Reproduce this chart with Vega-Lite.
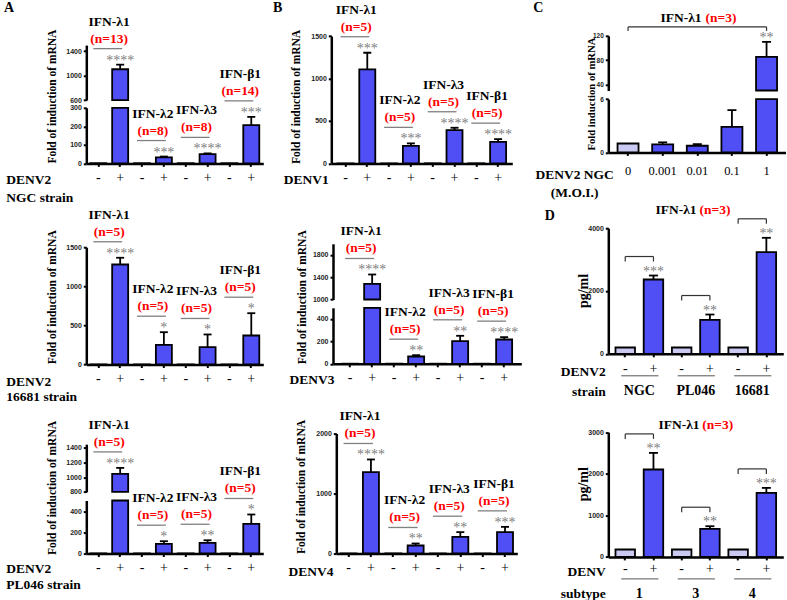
{
"$schema":"https://vega.github.io/schema/vega-lite/v6.json",
"padding":{"left":3.3,"top":0.8,"right":0,"bottom":0},
"columns":3,
"bounds":"flush",
"align":"each",
"spacing":{"row":64.4,"column":60},
"config":{
 "view":{"stroke":null},
 "axis":{"grid":false,"domain":true,"ticks":true,"domainColor":"#000","domainWidth":2.5,"tickColor":"#000","tickWidth":2,"tickSize":3,"labelFont":"Liberation Sans","labelFontWeight":"bold","labelFontSize":7,"labelColor":"#222","labelPadding":2,"titleFont":"Liberation Serif","titleFontWeight":"bold","titleColor":"#000","titleFontSize":11.5},
 "axisX":{"labelFont":"Liberation Serif","labelFontWeight":"normal","labelFontSize":14,"labelColor":"#000","labelAngle":0,"labelPadding":4,"titleFontSize":13.5,"titleAlign":"left","titleBaseline":"alphabetic","titleLineHeight":17},
 "text":{"font":"Liberation Serif"}
},
"datasets":{"bars":[
{"p":"A1","k":"λ1-","v":1,"hi":1,"c":"ctl"},
{"p":"A1","k":"λ1+","km":"λ1-","v":1105,"hi":1180,"c":"inf","s":"****","n":"(n=13)","g":"IFN-λ1"},
{"p":"A1","k":"λ2-","v":1,"hi":1,"c":"ctl"},
{"p":"A1","k":"λ2+","km":"λ2-","v":32,"hi":37,"c":"inf","s":"***","n":"(n=8)","g":"IFN-λ2"},
{"p":"A1","k":"λ3-","v":1,"hi":1,"c":"ctl"},
{"p":"A1","k":"λ3+","km":"λ3-","v":50,"hi":54,"c":"inf","s":"****","n":"(n=8)","g":"IFN-λ3"},
{"p":"A1","k":"β1-","v":1,"hi":1,"c":"ctl"},
{"p":"A1","k":"β1+","km":"β1-","v":207,"hi":251,"c":"inf","s":"***","n":"(n=14)","g":"IFN-β1"},
{"p":"A2","k":"λ1-","v":1,"hi":1,"c":"ctl"},
{"p":"A2","k":"λ1+","km":"λ1-","v":1279,"hi":1365,"c":"inf","s":"****","n":"(n=5)","g":"IFN-λ1"},
{"p":"A2","k":"λ2-","v":1,"hi":1,"c":"ctl"},
{"p":"A2","k":"λ2+","km":"λ2-","v":252,"hi":413,"c":"inf","s":"*","n":"(n=5)","g":"IFN-λ2"},
{"p":"A2","k":"λ3-","v":1,"hi":1,"c":"ctl"},
{"p":"A2","k":"λ3+","km":"λ3-","v":221,"hi":384,"c":"inf","s":"*","n":"(n=5)","g":"IFN-λ3"},
{"p":"A2","k":"β1-","v":1,"hi":1,"c":"ctl"},
{"p":"A2","k":"β1+","km":"β1-","v":371,"hi":656,"c":"inf","s":"*","n":"(n=5)","g":"IFN-β1"},
{"p":"A3","k":"λ1-","v":1,"hi":1,"c":"ctl"},
{"p":"A3","k":"λ1+","km":"λ1-","v":1045,"hi":1127,"c":"inf","s":"****","n":"(n=5)","g":"IFN-λ1"},
{"p":"A3","k":"λ2-","v":1,"hi":1,"c":"ctl"},
{"p":"A3","k":"λ2+","km":"λ2-","v":91,"hi":116,"c":"inf","s":"*","n":"(n=5)","g":"IFN-λ2"},
{"p":"A3","k":"λ3-","v":1,"hi":1,"c":"ctl"},
{"p":"A3","k":"λ3+","km":"λ3-","v":100,"hi":125,"c":"inf","s":"**","n":"(n=5)","g":"IFN-λ3"},
{"p":"A3","k":"β1-","v":1,"hi":1,"c":"ctl"},
{"p":"A3","k":"β1+","km":"β1-","v":279,"hi":368,"c":"inf","s":"*","n":"(n=5)","g":"IFN-β1"},
{"p":"B1","k":"λ1-","v":1,"hi":1,"c":"ctl"},
{"p":"B1","k":"λ1+","km":"λ1-","v":1108,"hi":1304,"c":"inf","s":"***","n":"(n=5)","g":"IFN-λ1"},
{"p":"B1","k":"λ2-","v":1,"hi":1,"c":"ctl"},
{"p":"B1","k":"λ2+","km":"λ2-","v":207,"hi":236,"c":"inf","s":"***","n":"(n=5)","g":"IFN-λ2"},
{"p":"B1","k":"λ3-","v":1,"hi":1,"c":"ctl"},
{"p":"B1","k":"λ3+","km":"λ3-","v":392,"hi":420,"c":"inf","s":"****","n":"(n=5)","g":"IFN-λ3"},
{"p":"B1","k":"β1-","v":1,"hi":1,"c":"ctl"},
{"p":"B1","k":"β1+","km":"β1-","v":254,"hi":286,"c":"inf","s":"****","n":"(n=5)","g":"IFN-β1"},
{"p":"B2","k":"λ1-","v":1,"hi":1,"c":"ctl"},
{"p":"B2","k":"λ1+","km":"λ1-","v":1282,"hi":1449,"c":"inf","s":"****","n":"(n=5)","g":"IFN-λ1"},
{"p":"B2","k":"λ2-","v":1,"hi":1,"c":"ctl"},
{"p":"B2","k":"λ2+","km":"λ2-","v":65,"hi":77,"c":"inf","s":"**","n":"(n=5)","g":"IFN-λ2"},
{"p":"B2","k":"λ3-","v":1,"hi":1,"c":"ctl"},
{"p":"B2","k":"λ3+","km":"λ3-","v":202,"hi":250,"c":"inf","s":"**","n":"(n=5)","g":"IFN-λ3"},
{"p":"B2","k":"β1-","v":1,"hi":1,"c":"ctl"},
{"p":"B2","k":"β1+","km":"β1-","v":217,"hi":238,"c":"inf","s":"****","n":"(n=5)","g":"IFN-β1"},
{"p":"B3","k":"λ1-","v":1,"hi":1,"c":"ctl"},
{"p":"B3","k":"λ1+","km":"λ1-","v":1355,"hi":1567,"c":"inf","s":"****","n":"(n=5)","g":"IFN-λ1"},
{"p":"B3","k":"λ2-","v":1,"hi":1,"c":"ctl"},
{"p":"B3","k":"λ2+","km":"λ2-","v":133,"hi":167,"c":"inf","s":"**","n":"(n=5)","g":"IFN-λ2"},
{"p":"B3","k":"λ3-","v":1,"hi":1,"c":"ctl"},
{"p":"B3","k":"λ3+","km":"λ3-","v":277,"hi":355,"c":"inf","s":"**","n":"(n=5)","g":"IFN-λ3"},
{"p":"B3","k":"β1-","v":1,"hi":1,"c":"ctl"},
{"p":"B3","k":"β1+","km":"β1-","v":355,"hi":444,"c":"inf","s":"***","n":"(n=5)","g":"IFN-β1"},
{"p":"C","k":"0","v":1,"hi":1,"c":"ctl"},
{"p":"C","k":"0.001","v":0.9,"hi":1.13,"c":"inf"},
{"p":"C","k":"0.01","v":0.75,"hi":0.93,"c":"inf"},
{"p":"C","k":"0.1","v":2.88,"hi":4.76,"c":"inf"},
{"p":"C","k":"1","km":"0","v":85.2,"hi":110,"c":"inf","s":"**"},
{"p":"D1","k":"NGC-","v":200,"hi":200,"c":"ctl"},
{"p":"D1","k":"NGC+","km":"NGC-","v":2366,"hi":2493,"c":"inf","s":"***","grp":"NGC"},
{"p":"D1","k":"PL046-","v":200,"hi":200,"c":"ctl"},
{"p":"D1","k":"PL046+","km":"PL046-","v":1083,"hi":1251,"c":"inf","s":"**","grp":"PL046"},
{"p":"D1","k":"16681-","v":200,"hi":200,"c":"ctl"},
{"p":"D1","k":"16681+","km":"16681-","v":3236,"hi":3694,"c":"inf","s":"**","grp":"16681"},
{"p":"D2","k":"1-","v":178,"hi":178,"c":"ctl"},
{"p":"D2","k":"1+","km":"1-","v":2102,"hi":2502,"c":"inf","s":"**","grp":"1"},
{"p":"D2","k":"3-","v":178,"hi":178,"c":"ctl"},
{"p":"D2","k":"3+","km":"3-","v":674,"hi":738,"c":"inf","s":"**","grp":"3"},
{"p":"D2","k":"4-","v":178,"hi":178,"c":"ctl"},
{"p":"D2","k":"4+","km":"4-","v":1540,"hi":1660,"c":"inf","s":"***","grp":"4"}
]},
"concat":[
{"width":184.5,"height":127.6,"data":{"name":"bars"},"transform":[{"filter":"datum.p=='A1'"}],
"encoding":{"x":{"field":"k","type":"nominal","scale":{"domain":["λ1-","λ1+","λ2-","λ2+","λ3-","λ3+","β1-","β1+"],"range":[0,177],"paddingInner":0,"paddingOuter":0.05},"axis":{"domainColor":"#000","domainWidth":2.5,"tickColor":"#000","tickWidth":2,"labelExpr":"substring(datum.label,length(datum.label)-1)","title":["DENV2","NGC strain"],"titleX":-80.5,"titleY":20.3,"titleLineHeight":17.7}}},
"resolve":{"scale":{"y":"independent"}},
"layer":[
{"layer":[
{"mark":{"type":"bar","width":16,"stroke":"#000","strokeWidth":1.8},"encoding":{"y":{"field":"v","type":"quantitative","scale":{"domain":[0,300],"range":[127.6,72],"nice":false,"zero":false,"clamp":true},"axis":{"orient":"left","format":"d","domainColor":"#000","domainWidth":2.5,"tickColor":"#000","tickWidth":2,"values":[0,100,200,300],"title":"Fold of induction of mRNA","titleX":-33.8,"titleY":127.3,"titleAlign":"left","titleBaseline":"middle","titleAngle":270}},"y2":{"datum":0},"color":{"field":"c","type":"nominal","scale":{"domain":["ctl","inf"],"range":["#c9c9f1","#4f4ff5"]},"legend":null}}},
{"transform":[{"filter":"datum.hi>datum.v && datum.hi<=300"}],"mark":{"type":"rule","color":"#000","strokeWidth":1.8},"encoding":{"y":{"field":"v","type":"quantitative"},"y2":{"field":"hi"}}},
{"transform":[{"filter":"datum.hi>datum.v && datum.hi<=300"}],"mark":{"type":"tick","orient":"horizontal","size":8,"thickness":1.8,"color":"#000","opacity":1},"encoding":{"y":{"field":"hi","type":"quantitative"}}},
{"transform":[{"filter":"datum.g && datum.hi<=300"}],"mark":{"type":"text","fontSize":14,"color":"#808080","baseline":"alphabetic"},"encoding":{"y":{"field":"hi","type":"quantitative"},"text":{"field":"s"}}},
{"transform":[{"filter":"datum.g && datum.hi<=300"}],"mark":{"type":"rule","color":"#808080","strokeWidth":1.3,"yOffset":-16,"xOffset":2,"x2Offset":-5},"encoding":{"y":{"field":"hi","type":"quantitative"},"x2":{"field":"km"}}},
{"transform":[{"filter":"datum.g && datum.hi<=300"}],"mark":{"type":"text","fontSize":13.5,"fontWeight":"bold","color":"#ff0000","baseline":"middle","dx":-11,"dy":-26},"encoding":{"y":{"field":"hi","type":"quantitative"},"text":{"field":"n"}}},
{"transform":[{"filter":"datum.g && datum.hi<=300"}],"mark":{"type":"text","fontSize":13.5,"fontWeight":"bold","color":"#000","baseline":"middle","dx":-11,"dy":-43},"encoding":{"y":{"field":"hi","type":"quantitative"},"text":{"field":"g"}}}
]},
{"layer":[
{"transform":[{"filter":"datum.v>300"}],"mark":{"type":"bar","width":16,"stroke":"#000","strokeWidth":1.8},"encoding":{"y":{"field":"v","type":"quantitative","scale":{"domain":[600,1500],"range":[64.3,9.3],"nice":false,"zero":false},"axis":{"orient":"left","format":"d","domainColor":"#000","domainWidth":2.5,"tickColor":"#000","tickWidth":2,"values":[600,800,1000,1200,1400],"title":null}},"y2":{"datum":600},"color":{"field":"c","type":"nominal","scale":{"domain":["ctl","inf"],"range":["#c9c9f1","#4f4ff5"]},"legend":null}}},
{"transform":[{"filter":"datum.hi>datum.v && datum.hi>300"}],"mark":{"type":"rule","color":"#000","strokeWidth":1.8},"encoding":{"y":{"field":"v","type":"quantitative"},"y2":{"field":"hi"}}},
{"transform":[{"filter":"datum.hi>datum.v && datum.hi>300"}],"mark":{"type":"tick","orient":"horizontal","size":8,"thickness":1.8,"color":"#000","opacity":1},"encoding":{"y":{"field":"hi","type":"quantitative"}}},
{"transform":[{"filter":"datum.g && datum.hi>300"}],"mark":{"type":"text","fontSize":14,"color":"#808080","baseline":"alphabetic"},"encoding":{"y":{"field":"hi","type":"quantitative"},"text":{"field":"s"}}},
{"transform":[{"filter":"datum.g && datum.hi>300"}],"mark":{"type":"rule","color":"#808080","strokeWidth":1.3,"yOffset":-16,"xOffset":2,"x2Offset":-5},"encoding":{"y":{"field":"hi","type":"quantitative"},"x2":{"field":"km"}}},
{"transform":[{"filter":"datum.g && datum.hi>300"}],"mark":{"type":"text","fontSize":13.5,"fontWeight":"bold","color":"#ff0000","baseline":"middle","dx":-11,"dy":-26},"encoding":{"y":{"field":"hi","type":"quantitative"},"text":{"field":"n"}}},
{"transform":[{"filter":"datum.g && datum.hi>300"}],"mark":{"type":"text","fontSize":13.5,"fontWeight":"bold","color":"#000","baseline":"middle","dx":-11,"dy":-43},"encoding":{"y":{"field":"hi","type":"quantitative"},"text":{"field":"g"}}},
{"transform":[{"filter":"datum.k=='λ1+'"}],"mark":{"type":"text","text":"A","fontSize":14,"fontWeight":"bold","color":"#000","align":"left","baseline":"middle","dx":-116.1,"dy":-56.8},"encoding":{"y":{"field":"hi","type":"quantitative"}}}
]}
]},
{"width":216.7,"height":127.6,"data":{"name":"bars"},"transform":[{"filter":"datum.p=='B1'"}],
"encoding":{"x":{"field":"k","type":"nominal","scale":{"domain":["λ1-","λ1+","λ2-","λ2+","λ3-","λ3+","β1-","β1+"],"range":[0,181],"paddingInner":0,"paddingOuter":0.15},"axis":{"domainColor":"#000","domainWidth":2.5,"tickColor":"#000","tickWidth":2,"labelExpr":"substring(datum.label,length(datum.label)-1)","title":"DENV1","titleAlign":"right","titleX":-3,"titleY":19.7}}},
"layer":[
{"mark":{"type":"bar","width":16,"stroke":"#000","strokeWidth":1.8},"encoding":{"y":{"field":"v","type":"quantitative","scale":{"domain":[0,1500],"range":[127.6,0.3],"nice":false,"zero":false},"axis":{"orient":"left","format":"d","domainColor":"#000","domainWidth":2.5,"tickColor":"#000","tickWidth":2,"values":[0,500,1000,1500],"title":"Fold of induction of mRNA","titleX":-35,"titleY":127.6,"titleAlign":"left","titleBaseline":"middle","titleAngle":270}},"y2":{"datum":0},"color":{"field":"c","type":"nominal","scale":{"domain":["ctl","inf"],"range":["#c9c9f1","#4f4ff5"]},"legend":null}}},
{"transform":[{"filter":"datum.hi>datum.v"}],"mark":{"type":"rule","color":"#000","strokeWidth":1.8},"encoding":{"y":{"field":"v","type":"quantitative"},"y2":{"field":"hi"}}},
{"transform":[{"filter":"datum.hi>datum.v"}],"mark":{"type":"tick","orient":"horizontal","size":8,"thickness":1.8,"color":"#000","opacity":1},"encoding":{"y":{"field":"hi","type":"quantitative"}}},
{"transform":[{"filter":"datum.g"}],"mark":{"type":"text","fontSize":14,"color":"#808080","baseline":"alphabetic"},"encoding":{"y":{"field":"hi","type":"quantitative"},"text":{"field":"s"}}},
{"transform":[{"filter":"datum.g"}],"mark":{"type":"rule","color":"#808080","strokeWidth":1.3,"yOffset":-16,"xOffset":2,"x2Offset":-5},"encoding":{"y":{"field":"hi","type":"quantitative"},"x2":{"field":"km"}}},
{"transform":[{"filter":"datum.g"}],"mark":{"type":"text","fontSize":13.5,"fontWeight":"bold","color":"#ff0000","baseline":"middle","dx":-11,"dy":-26},"encoding":{"y":{"field":"hi","type":"quantitative"},"text":{"field":"n"}}},
{"transform":[{"filter":"datum.g"}],"mark":{"type":"text","fontSize":13.5,"fontWeight":"bold","color":"#000","baseline":"middle","dx":-11,"dy":-43},"encoding":{"y":{"field":"hi","type":"quantitative"},"text":{"field":"g"}}},
{"transform":[{"filter":"datum.k=='λ1+'"}],"mark":{"type":"text","text":"B","fontSize":14,"fontWeight":"bold","color":"#000","align":"left","baseline":"middle","dx":-94.3,"dy":-44.8},"encoding":{"y":{"field":"hi","type":"quantitative"}}}
]},
{"width":178,"height":116.6,"data":{"name":"bars"},"transform":[{"filter":"datum.p=='C'"}],
"encoding":{"x":{"field":"k","type":"nominal","scale":{"domain":["0","0.001","0.01","0.1","1"],"range":[0,178],"paddingInner":0,"paddingOuter":0.07},"axis":{"domainColor":"#000","domainWidth":2.5,"tickColor":"#000","tickWidth":2,"labelFontSize":12.5,"labelPadding":9.5,"title":["DENV2 NGC","(M.O.I.)"],"titleAlign":"center","titleX":-34.2,"titleY":25.7,"titleLineHeight":18.4}}},
"resolve":{"scale":{"y":"independent"}},
"layer":[
{"layer":[
{"mark":{"type":"bar","width":21,"stroke":"#000","strokeWidth":1.8},"encoding":{"y":{"field":"v","type":"quantitative","scale":{"domain":[0,6],"range":[116.6,63.3],"nice":false,"zero":false,"clamp":true},"axis":{"orient":"left","format":"d","domainColor":"#000","domainWidth":2.5,"tickColor":"#000","tickWidth":2,"values":[0,2,4,6],"labelFontSize":6.5,"title":"Fold induction of mRNA","titleFontSize":10.7,"titleX":-17,"titleY":114.3,"titleAlign":"left","titleBaseline":"middle","titleAngle":270}},"y2":{"datum":0},"color":{"field":"c","type":"nominal","scale":{"domain":["ctl","inf"],"range":["#c9c9f1","#4f4ff5"]},"legend":null}}},
{"transform":[{"filter":"datum.hi>datum.v && datum.hi<=6"}],"mark":{"type":"rule","color":"#000","strokeWidth":1.8},"encoding":{"y":{"field":"v","type":"quantitative"},"y2":{"field":"hi"}}},
{"transform":[{"filter":"datum.hi>datum.v && datum.hi<=6"}],"mark":{"type":"tick","orient":"horizontal","size":9,"thickness":1.8,"color":"#000","opacity":1},"encoding":{"y":{"field":"hi","type":"quantitative"}}}
]},
{"layer":[
{"transform":[{"filter":"datum.v>6"}],"mark":{"type":"bar","width":21,"stroke":"#000","strokeWidth":1.8},"encoding":{"y":{"field":"v","type":"quantitative","scale":{"domain":[30,120],"range":[54.7,0],"nice":false,"zero":false},"axis":{"orient":"left","format":"d","domainColor":"#000","domainWidth":2.5,"tickColor":"#000","tickWidth":2,"values":[40,60,80,100,120],"labelFontSize":6.5,"title":null}},"y2":{"datum":30},"color":{"field":"c","type":"nominal","scale":{"domain":["ctl","inf"],"range":["#c9c9f1","#4f4ff5"]},"legend":null}}},
{"transform":[{"filter":"datum.hi>datum.v && datum.hi>6"}],"mark":{"type":"rule","color":"#000","strokeWidth":1.8},"encoding":{"y":{"field":"v","type":"quantitative"},"y2":{"field":"hi"}}},
{"transform":[{"filter":"datum.hi>datum.v && datum.hi>6"}],"mark":{"type":"tick","orient":"horizontal","size":9,"thickness":1.8,"color":"#000","opacity":1},"encoding":{"y":{"field":"hi","type":"quantitative"}}},
{"transform":[{"filter":"datum.s"}],"mark":{"type":"text","fontSize":14,"color":"#808080","baseline":"alphabetic"},"encoding":{"y":{"field":"hi","type":"quantitative"},"text":{"field":"s"}}},
{"transform":[{"filter":"datum.s"}],"mark":{"type":"rule","color":"#333","strokeWidth":1.2,"yOffset":-15},"encoding":{"y":{"field":"hi","type":"quantitative"},"x2":{"field":"km"}}},
{"transform":[{"filter":"datum.s"}],"mark":{"type":"tick","orient":"vertical","size":4,"thickness":1.2,"color":"#333","opacity":1,"yOffset":-13},"encoding":{"y":{"field":"hi","type":"quantitative"}}},
{"transform":[{"filter":"datum.s"}],"mark":{"type":"tick","orient":"vertical","size":4,"thickness":1.2,"color":"#333","opacity":1,"yOffset":-13},"encoding":{"x":{"field":"km","type":"nominal"},"y":{"field":"hi","type":"quantitative"}}},
{"transform":[{"filter":"datum.s"}],"mark":{"type":"text","text":"IFN-λ1","fontSize":13.5,"fontWeight":"bold","color":"#000","align":"right","baseline":"middle","dx":-65,"dy":-23.5},"encoding":{"y":{"field":"hi","type":"quantitative"}}},
{"transform":[{"filter":"datum.s"}],"mark":{"type":"text","text":"(n=3)","fontSize":13.5,"fontWeight":"bold","color":"#ff0000","align":"left","baseline":"middle","dx":-61,"dy":-23.5},"encoding":{"y":{"field":"hi","type":"quantitative"}}},
{"transform":[{"filter":"datum.s"}],"mark":{"type":"text","text":"C","fontSize":14,"fontWeight":"bold","color":"#000","align":"left","baseline":"middle","dx":-233.3,"dy":-33.5},"encoding":{"y":{"field":"hi","type":"quantitative"}}}
]}
]},
{"width":184.5,"height":136.3,"data":{"name":"bars"},"transform":[{"filter":"datum.p=='A2'"}],
"encoding":{"x":{"field":"k","type":"nominal","scale":{"domain":["λ1-","λ1+","λ2-","λ2+","λ3-","λ3+","β1-","β1+"],"range":[0,177],"paddingInner":0,"paddingOuter":0.05},"axis":{"domainColor":"#000","domainWidth":2.5,"tickColor":"#000","tickWidth":2,"labelExpr":"substring(datum.label,length(datum.label)-1)","title":["DENV2","16681 strain"],"titleX":-80.5,"titleY":20.6,"titleLineHeight":15.5}}},
"layer":[
{"mark":{"type":"bar","width":16,"stroke":"#000","strokeWidth":1.8},"encoding":{"y":{"field":"v","type":"quantitative","scale":{"domain":[0,1500],"range":[136.3,19],"nice":false,"zero":false},"axis":{"orient":"left","format":"d","domainColor":"#000","domainWidth":2.5,"tickColor":"#000","tickWidth":2,"values":[0,500,1000,1500],"title":"Fold of induction of mRNA","titleX":-33.8,"titleY":135.6,"titleAlign":"left","titleBaseline":"middle","titleAngle":270}},"y2":{"datum":0},"color":{"field":"c","type":"nominal","scale":{"domain":["ctl","inf"],"range":["#c9c9f1","#4f4ff5"]},"legend":null}}},
{"transform":[{"filter":"datum.hi>datum.v"}],"mark":{"type":"rule","color":"#000","strokeWidth":1.8},"encoding":{"y":{"field":"v","type":"quantitative"},"y2":{"field":"hi"}}},
{"transform":[{"filter":"datum.hi>datum.v"}],"mark":{"type":"tick","orient":"horizontal","size":8,"thickness":1.8,"color":"#000","opacity":1},"encoding":{"y":{"field":"hi","type":"quantitative"}}},
{"transform":[{"filter":"datum.g"}],"mark":{"type":"text","fontSize":14,"color":"#808080","baseline":"alphabetic"},"encoding":{"y":{"field":"hi","type":"quantitative"},"text":{"field":"s"}}},
{"transform":[{"filter":"datum.g"}],"mark":{"type":"rule","color":"#808080","strokeWidth":1.3,"yOffset":-16,"xOffset":2,"x2Offset":-5},"encoding":{"y":{"field":"hi","type":"quantitative"},"x2":{"field":"km"}}},
{"transform":[{"filter":"datum.g"}],"mark":{"type":"text","fontSize":13.5,"fontWeight":"bold","color":"#ff0000","baseline":"middle","dx":-11,"dy":-26},"encoding":{"y":{"field":"hi","type":"quantitative"},"text":{"field":"n"}}},
{"transform":[{"filter":"datum.g"}],"mark":{"type":"text","fontSize":13.5,"fontWeight":"bold","color":"#000","baseline":"middle","dx":-11,"dy":-43},"encoding":{"y":{"field":"hi","type":"quantitative"},"text":{"field":"g"}}}
]},
{"width":216.7,"height":135.6,"data":{"name":"bars"},"transform":[{"filter":"datum.p=='B2'"}],
"encoding":{"x":{"field":"k","type":"nominal","scale":{"domain":["λ1-","λ1+","λ2-","λ2+","λ3-","λ3+","β1-","β1+"],"range":[1.7,190],"paddingInner":0,"paddingOuter":0.28},"axis":{"domainColor":"#000","domainWidth":2.5,"tickColor":"#000","tickWidth":2,"labelExpr":"substring(datum.label,length(datum.label)-1)","title":"DENV3","titleAlign":"right","titleX":2.7,"titleY":19.7}}},
"resolve":{"scale":{"y":"independent"}},
"layer":[
{"layer":[
{"mark":{"type":"bar","width":16,"stroke":"#000","strokeWidth":1.8},"encoding":{"y":{"field":"v","type":"quantitative","scale":{"domain":[0,500],"range":[135.6,79.6],"nice":false,"zero":false,"clamp":true},"axis":{"orient":"left","format":"d","domainColor":"#000","domainWidth":2.5,"tickColor":"#000","tickWidth":2,"offset":-1.7,"values":[0,100,200,300,400,500],"title":"Fold of induction of mRNA","titleX":-30,"titleY":135.6,"titleAlign":"left","titleBaseline":"middle","titleAngle":270}},"y2":{"datum":0},"color":{"field":"c","type":"nominal","scale":{"domain":["ctl","inf"],"range":["#c9c9f1","#4f4ff5"]},"legend":null}}},
{"transform":[{"filter":"datum.hi>datum.v && datum.hi<=500"}],"mark":{"type":"rule","color":"#000","strokeWidth":1.8},"encoding":{"y":{"field":"v","type":"quantitative"},"y2":{"field":"hi"}}},
{"transform":[{"filter":"datum.hi>datum.v && datum.hi<=500"}],"mark":{"type":"tick","orient":"horizontal","size":8,"thickness":1.8,"color":"#000","opacity":1},"encoding":{"y":{"field":"hi","type":"quantitative"}}},
{"transform":[{"filter":"datum.g && datum.hi<=500"}],"mark":{"type":"text","fontSize":14,"color":"#808080","baseline":"alphabetic"},"encoding":{"y":{"field":"hi","type":"quantitative"},"text":{"field":"s"}}},
{"transform":[{"filter":"datum.g && datum.hi<=500"}],"mark":{"type":"rule","color":"#808080","strokeWidth":1.3,"yOffset":-16,"xOffset":2,"x2Offset":-5},"encoding":{"y":{"field":"hi","type":"quantitative"},"x2":{"field":"km"}}},
{"transform":[{"filter":"datum.g && datum.hi<=500"}],"mark":{"type":"text","fontSize":13.5,"fontWeight":"bold","color":"#ff0000","baseline":"middle","dx":-11,"dy":-26},"encoding":{"y":{"field":"hi","type":"quantitative"},"text":{"field":"n"}}},
{"transform":[{"filter":"datum.g && datum.hi<=500"}],"mark":{"type":"text","fontSize":13.5,"fontWeight":"bold","color":"#000","baseline":"middle","dx":-11,"dy":-43},"encoding":{"y":{"field":"hi","type":"quantitative"},"text":{"field":"g"}}}
]},
{"layer":[
{"transform":[{"filter":"datum.v>500"}],"mark":{"type":"bar","width":16,"stroke":"#000","strokeWidth":1.8},"encoding":{"y":{"field":"v","type":"quantitative","scale":{"domain":[1000,2000],"range":[71.3,15.6],"nice":false,"zero":false},"axis":{"orient":"left","format":"d","domainColor":"#000","domainWidth":2.5,"tickColor":"#000","tickWidth":2,"offset":-1.7,"values":[1000,1200,1400,1600,1800,2000],"title":null}},"y2":{"datum":1000},"color":{"field":"c","type":"nominal","scale":{"domain":["ctl","inf"],"range":["#c9c9f1","#4f4ff5"]},"legend":null}}},
{"transform":[{"filter":"datum.hi>datum.v && datum.hi>500"}],"mark":{"type":"rule","color":"#000","strokeWidth":1.8},"encoding":{"y":{"field":"v","type":"quantitative"},"y2":{"field":"hi"}}},
{"transform":[{"filter":"datum.hi>datum.v && datum.hi>500"}],"mark":{"type":"tick","orient":"horizontal","size":8,"thickness":1.8,"color":"#000","opacity":1},"encoding":{"y":{"field":"hi","type":"quantitative"}}},
{"transform":[{"filter":"datum.g && datum.hi>500"}],"mark":{"type":"text","fontSize":14,"color":"#808080","baseline":"alphabetic"},"encoding":{"y":{"field":"hi","type":"quantitative"},"text":{"field":"s"}}},
{"transform":[{"filter":"datum.g && datum.hi>500"}],"mark":{"type":"rule","color":"#808080","strokeWidth":1.3,"yOffset":-16,"xOffset":2,"x2Offset":-5},"encoding":{"y":{"field":"hi","type":"quantitative"},"x2":{"field":"km"}}},
{"transform":[{"filter":"datum.g && datum.hi>500"}],"mark":{"type":"text","fontSize":13.5,"fontWeight":"bold","color":"#ff0000","baseline":"middle","dx":-11,"dy":-26},"encoding":{"y":{"field":"hi","type":"quantitative"},"text":{"field":"n"}}},
{"transform":[{"filter":"datum.g && datum.hi>500"}],"mark":{"type":"text","fontSize":13.5,"fontWeight":"bold","color":"#000","baseline":"middle","dx":-11,"dy":-43},"encoding":{"y":{"field":"hi","type":"quantitative"},"text":{"field":"g"}}}
]}
]},
{"width":175,"height":125.6,"data":{"name":"bars"},"transform":[{"filter":"datum.p=='D1'"}],
"encoding":{"x":{"field":"k","type":"nominal","scale":{"domain":["NGC-","NGC+","PL046-","PL046+","16681-","16681+"],"range":[0,175],"paddingInner":0,"paddingOuter":0.1},"axis":{"domainColor":"#000","domainWidth":2.5,"tickColor":"#000","tickWidth":2,"labelExpr":"substring(datum.label,length(datum.label)-1)","labelPadding":4.7,"title":["DENV2","strain"],"titleAlign":"right","titleX":-3,"titleY":21.3,"titleLineHeight":20.7}}},
"layer":[
{"mark":{"type":"bar","width":19.5,"stroke":"#000","strokeWidth":1.8},"encoding":{"y":{"field":"v","type":"quantitative","scale":{"domain":[0,4000],"range":[125.6,0],"nice":false,"zero":false},"axis":{"orient":"left","format":"d","domainColor":"#000","domainWidth":2.5,"tickColor":"#000","tickWidth":2,"values":[0,1000,2000,3000,4000],"title":"pg/ml","titleFontSize":14,"titleX":-25,"titleY":62.3,"titleAlign":"center","titleBaseline":"middle","titleAngle":270}},"y2":{"datum":0},"color":{"field":"c","type":"nominal","scale":{"domain":["ctl","inf"],"range":["#c9c9f1","#4f4ff5"]},"legend":null}}},
{"transform":[{"filter":"datum.hi>datum.v"}],"mark":{"type":"rule","color":"#000","strokeWidth":1.8},"encoding":{"y":{"field":"v","type":"quantitative"},"y2":{"field":"hi"}}},
{"transform":[{"filter":"datum.hi>datum.v"}],"mark":{"type":"tick","orient":"horizontal","size":9,"thickness":1.8,"color":"#000","opacity":1},"encoding":{"y":{"field":"hi","type":"quantitative"}}},
{"transform":[{"filter":"datum.s"}],"mark":{"type":"text","fontSize":14,"color":"#808080","baseline":"alphabetic"},"encoding":{"y":{"field":"hi","type":"quantitative"},"text":{"field":"s"}}},
{"transform":[{"filter":"datum.s"}],"mark":{"type":"rule","color":"#333","strokeWidth":1.2,"yOffset":-19},"encoding":{"y":{"field":"hi","type":"quantitative"},"x2":{"field":"km"}}},
{"transform":[{"filter":"datum.s"}],"mark":{"type":"tick","orient":"vertical","size":5,"thickness":1.2,"color":"#333","opacity":1,"yOffset":-16.5},"encoding":{"y":{"field":"hi","type":"quantitative"}}},
{"transform":[{"filter":"datum.s"}],"mark":{"type":"tick","orient":"vertical","size":5,"thickness":1.2,"color":"#333","opacity":1,"yOffset":-16.5},"encoding":{"x":{"field":"km","type":"nominal"},"y":{"field":"hi","type":"quantitative"}}},
{"transform":[{"filter":"datum.grp"}],"mark":{"type":"rule","color":"#555","strokeWidth":1,"yOffset":22,"xOffset":5,"x2Offset":-4},"encoding":{"y":{"datum":0,"type":"quantitative"},"x2":{"field":"km"}}},
{"transform":[{"filter":"datum.grp"}],"mark":{"type":"text","fontSize":14,"fontWeight":"bold","color":"#000","baseline":"middle","dx":-14.1,"dy":37},"encoding":{"y":{"datum":0,"type":"quantitative"},"text":{"field":"grp"}}},
{"transform":[{"filter":"datum.k=='PL046+'"}],"mark":{"type":"text","text":"IFN-λ1","fontSize":13.5,"fontWeight":"bold","color":"#000","align":"right","baseline":"middle","dx":-13.3,"dy":-104.7},"encoding":{"y":{"field":"hi","type":"quantitative"}}},
{"transform":[{"filter":"datum.k=='PL046+'"}],"mark":{"type":"text","text":"(n=3)","fontSize":13.5,"fontWeight":"bold","color":"#ff0000","align":"left","baseline":"middle","dx":-10.3,"dy":-104.7},"encoding":{"y":{"field":"hi","type":"quantitative"}}},
{"transform":[{"filter":"datum.k=='NGC+'"}],"mark":{"type":"text","text":"D","fontSize":14,"fontWeight":"bold","color":"#000","align":"left","baseline":"middle","dx":-108.8,"dy":-60},"encoding":{"y":{"field":"hi","type":"quantitative"}}}
]},
{"width":184.5,"height":123.9,"data":{"name":"bars"},"transform":[{"filter":"datum.p=='A3'"}],
"encoding":{"x":{"field":"k","type":"nominal","scale":{"domain":["λ1-","λ1+","λ2-","λ2+","λ3-","λ3+","β1-","β1+"],"range":[0,177],"paddingInner":0,"paddingOuter":0.05},"axis":{"domainColor":"#000","domainWidth":2.5,"tickColor":"#000","tickWidth":2,"labelExpr":"substring(datum.label,length(datum.label)-1)","title":["DENV2","PL046 strain"],"titleX":-80.5,"titleY":19,"titleLineHeight":16}}},
"resolve":{"scale":{"y":"independent"}},
"layer":[
{"layer":[
{"mark":{"type":"bar","width":16,"stroke":"#000","strokeWidth":1.8},"encoding":{"y":{"field":"v","type":"quantitative","scale":{"domain":[0,500],"range":[123.9,70.9],"nice":false,"zero":false,"clamp":true},"axis":{"orient":"left","format":"d","domainColor":"#000","domainWidth":2.5,"tickColor":"#000","tickWidth":2,"values":[0,100,200,300,400,500],"title":"Fold of induction of mRNA","titleX":-33.8,"titleY":124.9,"titleAlign":"left","titleBaseline":"middle","titleAngle":270}},"y2":{"datum":0},"color":{"field":"c","type":"nominal","scale":{"domain":["ctl","inf"],"range":["#c9c9f1","#4f4ff5"]},"legend":null}}},
{"transform":[{"filter":"datum.hi>datum.v && datum.hi<=500"}],"mark":{"type":"rule","color":"#000","strokeWidth":1.8},"encoding":{"y":{"field":"v","type":"quantitative"},"y2":{"field":"hi"}}},
{"transform":[{"filter":"datum.hi>datum.v && datum.hi<=500"}],"mark":{"type":"tick","orient":"horizontal","size":8,"thickness":1.8,"color":"#000","opacity":1},"encoding":{"y":{"field":"hi","type":"quantitative"}}},
{"transform":[{"filter":"datum.g && datum.hi<=500"}],"mark":{"type":"text","fontSize":14,"color":"#808080","baseline":"alphabetic"},"encoding":{"y":{"field":"hi","type":"quantitative"},"text":{"field":"s"}}},
{"transform":[{"filter":"datum.g && datum.hi<=500"}],"mark":{"type":"rule","color":"#808080","strokeWidth":1.3,"yOffset":-16,"xOffset":2,"x2Offset":-5},"encoding":{"y":{"field":"hi","type":"quantitative"},"x2":{"field":"km"}}},
{"transform":[{"filter":"datum.g && datum.hi<=500"}],"mark":{"type":"text","fontSize":13.5,"fontWeight":"bold","color":"#ff0000","baseline":"middle","dx":-11,"dy":-26},"encoding":{"y":{"field":"hi","type":"quantitative"},"text":{"field":"n"}}},
{"transform":[{"filter":"datum.g && datum.hi<=500"}],"mark":{"type":"text","fontSize":13.5,"fontWeight":"bold","color":"#000","baseline":"middle","dx":-11,"dy":-43},"encoding":{"y":{"field":"hi","type":"quantitative"},"text":{"field":"g"}}}
]},
{"layer":[
{"transform":[{"filter":"datum.v>500"}],"mark":{"type":"bar","width":16,"stroke":"#000","strokeWidth":1.8},"encoding":{"y":{"field":"v","type":"quantitative","scale":{"domain":[800,1450],"range":[62.3,14.6],"nice":false,"zero":false},"axis":{"orient":"left","format":"d","domainColor":"#000","domainWidth":2.5,"tickColor":"#000","tickWidth":2,"values":[800,1000,1200,1400],"title":null}},"y2":{"datum":800},"color":{"field":"c","type":"nominal","scale":{"domain":["ctl","inf"],"range":["#c9c9f1","#4f4ff5"]},"legend":null}}},
{"transform":[{"filter":"datum.hi>datum.v && datum.hi>500"}],"mark":{"type":"rule","color":"#000","strokeWidth":1.8},"encoding":{"y":{"field":"v","type":"quantitative"},"y2":{"field":"hi"}}},
{"transform":[{"filter":"datum.hi>datum.v && datum.hi>500"}],"mark":{"type":"tick","orient":"horizontal","size":8,"thickness":1.8,"color":"#000","opacity":1},"encoding":{"y":{"field":"hi","type":"quantitative"}}},
{"transform":[{"filter":"datum.g && datum.hi>500"}],"mark":{"type":"text","fontSize":14,"color":"#808080","baseline":"alphabetic"},"encoding":{"y":{"field":"hi","type":"quantitative"},"text":{"field":"s"}}},
{"transform":[{"filter":"datum.g && datum.hi>500"}],"mark":{"type":"rule","color":"#808080","strokeWidth":1.3,"yOffset":-16,"xOffset":2,"x2Offset":-5},"encoding":{"y":{"field":"hi","type":"quantitative"},"x2":{"field":"km"}}},
{"transform":[{"filter":"datum.g && datum.hi>500"}],"mark":{"type":"text","fontSize":13.5,"fontWeight":"bold","color":"#ff0000","baseline":"middle","dx":-11,"dy":-26},"encoding":{"y":{"field":"hi","type":"quantitative"},"text":{"field":"n"}}},
{"transform":[{"filter":"datum.g && datum.hi>500"}],"mark":{"type":"text","fontSize":13.5,"fontWeight":"bold","color":"#000","baseline":"middle","dx":-11,"dy":-43},"encoding":{"y":{"field":"hi","type":"quantitative"},"text":{"field":"g"}}}
]}
]},
{"width":216.7,"height":123.9,"data":{"name":"bars"},"transform":[{"filter":"datum.p=='B3'"}],
"encoding":{"x":{"field":"k","type":"nominal","scale":{"domain":["λ1-","λ1+","λ2-","λ2+","λ3-","λ3+","β1-","β1+"],"range":[5,186],"paddingInner":0,"paddingOuter":0.05},"axis":{"domainColor":"#000","domainWidth":2.5,"tickColor":"#000","tickWidth":2,"labelExpr":"substring(datum.label,length(datum.label)-1)","title":"DENV4","titleAlign":"right","titleX":1.7,"titleY":22.3}}},
"layer":[
{"mark":{"type":"bar","width":16,"stroke":"#000","strokeWidth":1.8},"encoding":{"y":{"field":"v","type":"quantitative","scale":{"domain":[0,2000],"range":[123.9,3.9],"nice":false,"zero":false},"axis":{"orient":"left","format":"d","domainColor":"#000","domainWidth":2.5,"tickColor":"#000","tickWidth":2,"offset":-5,"values":[0,500,1000,1500,2000],"title":"Fold of induction of mRNA","titleX":-35,"titleY":123.9,"titleAlign":"left","titleBaseline":"middle","titleAngle":270}},"y2":{"datum":0},"color":{"field":"c","type":"nominal","scale":{"domain":["ctl","inf"],"range":["#c9c9f1","#4f4ff5"]},"legend":null}}},
{"transform":[{"filter":"datum.hi>datum.v"}],"mark":{"type":"rule","color":"#000","strokeWidth":1.8},"encoding":{"y":{"field":"v","type":"quantitative"},"y2":{"field":"hi"}}},
{"transform":[{"filter":"datum.hi>datum.v"}],"mark":{"type":"tick","orient":"horizontal","size":8,"thickness":1.8,"color":"#000","opacity":1},"encoding":{"y":{"field":"hi","type":"quantitative"}}},
{"transform":[{"filter":"datum.g"}],"mark":{"type":"text","fontSize":14,"color":"#808080","baseline":"alphabetic"},"encoding":{"y":{"field":"hi","type":"quantitative"},"text":{"field":"s"}}},
{"transform":[{"filter":"datum.g"}],"mark":{"type":"rule","color":"#808080","strokeWidth":1.3,"yOffset":-16,"xOffset":2,"x2Offset":-5},"encoding":{"y":{"field":"hi","type":"quantitative"},"x2":{"field":"km"}}},
{"transform":[{"filter":"datum.g"}],"mark":{"type":"text","fontSize":13.5,"fontWeight":"bold","color":"#ff0000","baseline":"middle","dx":-11,"dy":-26},"encoding":{"y":{"field":"hi","type":"quantitative"},"text":{"field":"n"}}},
{"transform":[{"filter":"datum.g"}],"mark":{"type":"text","fontSize":13.5,"fontWeight":"bold","color":"#000","baseline":"middle","dx":-11,"dy":-43},"encoding":{"y":{"field":"hi","type":"quantitative"},"text":{"field":"g"}}}
]},
{"width":175,"height":127.3,"data":{"name":"bars"},"transform":[{"filter":"datum.p=='D2'"}],
"encoding":{"x":{"field":"k","type":"nominal","scale":{"domain":["1-","1+","3-","3+","4-","4+"],"range":[0,175],"paddingInner":0,"paddingOuter":0.1},"axis":{"domainColor":"#000","domainWidth":2.5,"tickColor":"#000","tickWidth":2,"labelExpr":"substring(datum.label,length(datum.label)-1)","labelPadding":1.6,"title":["DENV","subtype"],"titleAlign":"right","titleX":-3,"titleY":18.2,"titleLineHeight":22}}},
"layer":[
{"mark":{"type":"bar","width":19.5,"stroke":"#000","strokeWidth":1.8},"encoding":{"y":{"field":"v","type":"quantitative","scale":{"domain":[0,3000],"range":[127.3,2.6],"nice":false,"zero":false},"axis":{"orient":"left","format":"d","domainColor":"#000","domainWidth":2.5,"tickColor":"#000","tickWidth":2,"values":[0,1000,2000,3000],"title":"pg/ml","titleFontSize":14,"titleX":-25,"titleY":54.1,"titleAlign":"center","titleBaseline":"middle","titleAngle":270}},"y2":{"datum":0},"color":{"field":"c","type":"nominal","scale":{"domain":["ctl","inf"],"range":["#c9c9f1","#4f4ff5"]},"legend":null}}},
{"transform":[{"filter":"datum.hi>datum.v"}],"mark":{"type":"rule","color":"#000","strokeWidth":1.8},"encoding":{"y":{"field":"v","type":"quantitative"},"y2":{"field":"hi"}}},
{"transform":[{"filter":"datum.hi>datum.v"}],"mark":{"type":"tick","orient":"horizontal","size":9,"thickness":1.8,"color":"#000","opacity":1},"encoding":{"y":{"field":"hi","type":"quantitative"}}},
{"transform":[{"filter":"datum.s"}],"mark":{"type":"text","fontSize":14,"color":"#808080","baseline":"alphabetic"},"encoding":{"y":{"field":"hi","type":"quantitative"},"text":{"field":"s"}}},
{"transform":[{"filter":"datum.s"}],"mark":{"type":"rule","color":"#333","strokeWidth":1.2,"yOffset":-19},"encoding":{"y":{"field":"hi","type":"quantitative"},"x2":{"field":"km"}}},
{"transform":[{"filter":"datum.s"}],"mark":{"type":"tick","orient":"vertical","size":5,"thickness":1.2,"color":"#333","opacity":1,"yOffset":-16.5},"encoding":{"y":{"field":"hi","type":"quantitative"}}},
{"transform":[{"filter":"datum.s"}],"mark":{"type":"tick","orient":"vertical","size":5,"thickness":1.2,"color":"#333","opacity":1,"yOffset":-16.5},"encoding":{"x":{"field":"km","type":"nominal"},"y":{"field":"hi","type":"quantitative"}}},
{"transform":[{"filter":"datum.grp"}],"mark":{"type":"rule","color":"#555","strokeWidth":1,"yOffset":22,"xOffset":5,"x2Offset":-4},"encoding":{"y":{"datum":0,"type":"quantitative"},"x2":{"field":"km"}}},
{"transform":[{"filter":"datum.grp"}],"mark":{"type":"text","fontSize":14,"fontWeight":"bold","color":"#000","baseline":"middle","dx":-14.1,"dy":37},"encoding":{"y":{"datum":0,"type":"quantitative"},"text":{"field":"grp"}}},
{"transform":[{"filter":"datum.k=='3+'"}],"mark":{"type":"text","text":"IFN-λ1","fontSize":13.5,"fontWeight":"bold","color":"#000","align":"right","baseline":"middle","dx":-10.3,"dy":-101},"encoding":{"y":{"field":"hi","type":"quantitative"}}},
{"transform":[{"filter":"datum.k=='3+'"}],"mark":{"type":"text","text":"(n=3)","fontSize":13.5,"fontWeight":"bold","color":"#ff0000","align":"left","baseline":"middle","dx":-7.6,"dy":-101},"encoding":{"y":{"field":"hi","type":"quantitative"}}}
]}
]
}
